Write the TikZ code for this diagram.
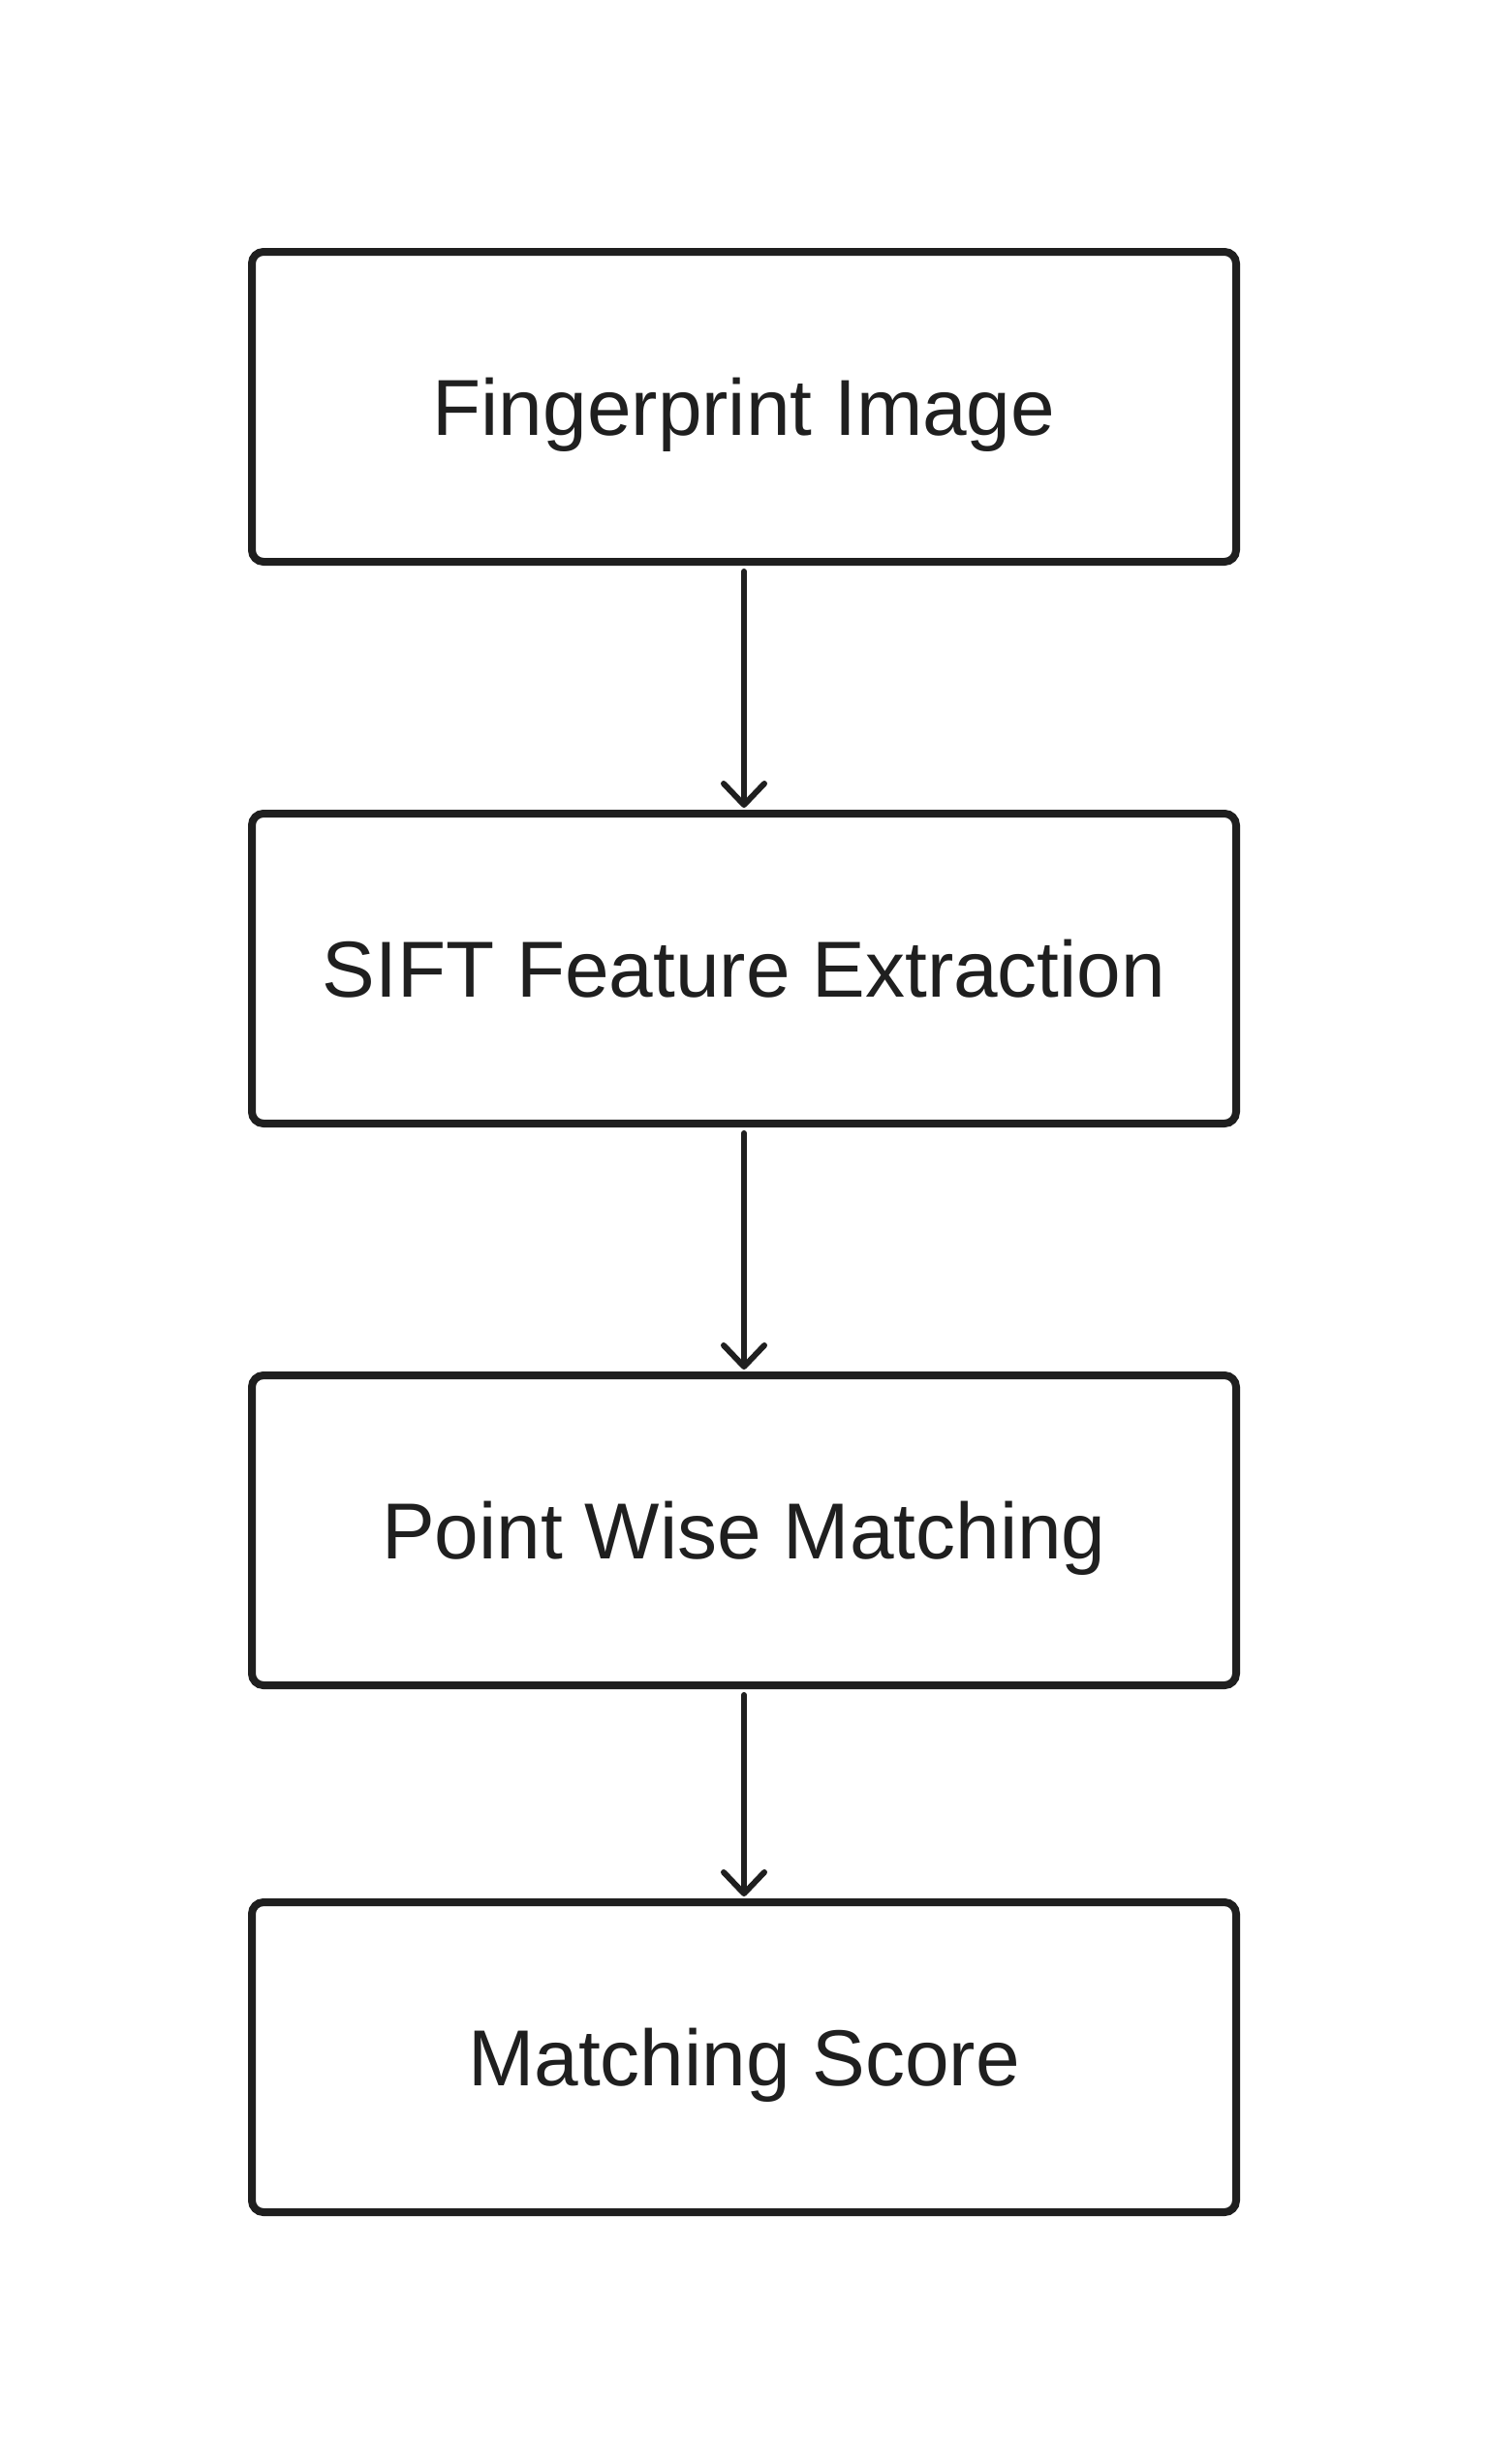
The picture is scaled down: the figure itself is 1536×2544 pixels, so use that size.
\documentclass[tikz,border=0pt]{standalone}
\usepackage{fontspec}
\setmainfont{Liberation Sans}
\usetikzlibrary{arrows.meta}
\definecolor{ink}{HTML}{1F1F1F}
\begin{document}
\begin{tikzpicture}[x=0.5pt,y=-0.5pt,
  stagebox/.style={draw=ink, line width=4pt, rounded corners=6pt, fill=white,
    minimum width=508pt, minimum height=160pt, inner sep=0pt,
    text height=29.4pt, text depth=0pt,
    text=ink, font=\fontsize{41}{49}\selectfont},
  flow/.style={draw=ink, line width=3pt, line cap=round,
    -{Straight Barb[length=11pt, width=21pt, line width=3pt, round]},
    shorten <=3pt, shorten >=1pt}]
  % page
  \fill[white] (0,0) rectangle (1536,2544);
  \useasboundingbox (0,0) rectangle (1536,2544);
  % stages
  \node[stagebox] (img)   at (768,420)  {Fingerprint Image};
  \node[stagebox] (sift)  at (768,1000) {SIFT Feature Extraction};
  \node[stagebox] (match) at (768,1580) {Point Wise Matching};
  \node[stagebox] (score) at (768,2124) {Matching Score};
  % flow
  \draw[flow] (img.south)   -- (sift.north);
  \draw[flow] (sift.south)  -- (match.north);
  \draw[flow] (match.south) -- (score.north);
\end{tikzpicture}
\end{document}
